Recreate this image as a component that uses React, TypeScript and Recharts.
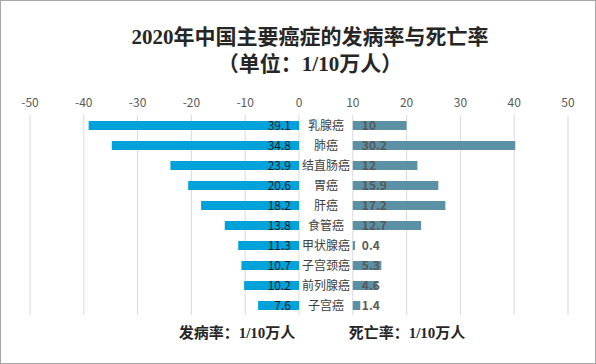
import { BarChart, Bar, XAxis, YAxis, CartesianGrid, LabelList } from 'recharts';

const categories = ['乳腺癌', '肺癌', '结直肠癌', '胃癌', '肝癌', '食管癌', '甲状腺癌', '子宫颈癌', '前列腺癌', '子宫癌'];
const incidence = [39.1, 34.8, 23.9, 20.6, 18.2, 13.8, 11.3, 10.7, 10.2, 7.6];
const mortality = [10, 30.2, 12, 15.9, 17.2, 12.7, 0.4, 5.3, 4.6, 1.4];
const xTicks = [-50, -40, -30, -20, -10, 0, 10, 20, 30, 40, 50];
// blank column between the two halves that holds the cancer names
const LABEL_GAP = 10;

const data = categories.map((name, i) => ({
    name,
    incidence: incidence[i],
    incidenceBar: -incidence[i],
    gap: LABEL_GAP,
    mortality: mortality[i],
}));

const serif = '"Liberation Serif", "Noto Sans CJK SC", serif';
const sans = '"Noto Sans CJK SC", "Noto Sans", sans-serif';

export default function App() {
    return (
        <div style={{ position: 'absolute', left: 0, top: 0, width: 596, height: 364, background: '#fff', overflow: 'hidden' }}>
            <div
                style={{
                    position: 'absolute',
                    left: 24,
                    right: 0,
                    top: 24,
                    textAlign: 'center',
                    fontFamily: serif,
                    fontWeight: 700,
                    fontSize: 21,
                    lineHeight: '27px',
                    color: '#262626',
                }}
            >
                <div>2020年中国主要癌症的发病率与死亡率</div>
                <div>（单位：1/10万人）</div>
            </div>
            <BarChart
                width={596}
                height={364}
                data={data}
                layout="vertical"
                stackOffset="sign"
                barSize={9}
                margin={{ top: 90, right: 28, left: 30, bottom: 49 }}
                style={{ fontFamily: sans }}
            >
                <CartesianGrid horizontal={false} stroke="#d9d9d9" />
                <XAxis
                    type="number"
                    orientation="top"
                    domain={[-50, 50]}
                    ticks={xTicks}
                    height={25}
                    axisLine={false}
                    tickLine={false}
                    tick={{ fill: '#595959', fontSize: 12 }}
                />
                <YAxis type="category" dataKey="name" hide />
                <Bar dataKey="incidenceBar" stackId="a" fill="#00a2da" isAnimationActive={false}>
                    <LabelList dataKey="incidence" position="insideLeft" offset={8} fill="#1a1a1a" fontSize={12} />
                </Bar>
                <Bar dataKey="gap" stackId="a" fill="transparent" isAnimationActive={false}>
                    <LabelList dataKey="name" position="center" fill="#404040" fontSize={12} />
                </Bar>
                <Bar dataKey="mortality" stackId="a" fill="#5b90a5" isAnimationActive={false}>
                    <LabelList dataKey="mortality" position="insideLeft" offset={9} fill="#595959" fontSize={12} fontWeight={700} />
                </Bar>
            </BarChart>
            <div style={{ position: 'absolute', left: 157, width: 160, top: 323, textAlign: 'center', fontFamily: serif, fontWeight: 700, fontSize: 15, lineHeight: '20px', color: '#262626' }}>
                发病率：1/10万人
            </div>
            <div style={{ position: 'absolute', left: 327, width: 160, top: 323, textAlign: 'center', fontFamily: serif, fontWeight: 700, fontSize: 15, lineHeight: '20px', color: '#262626' }}>
                死亡率：1/10万人
            </div>
            <div style={{ position: 'absolute', inset: 0, border: '1px solid #a6a6a6', pointerEvents: 'none' }} />
        </div>
    );
}
